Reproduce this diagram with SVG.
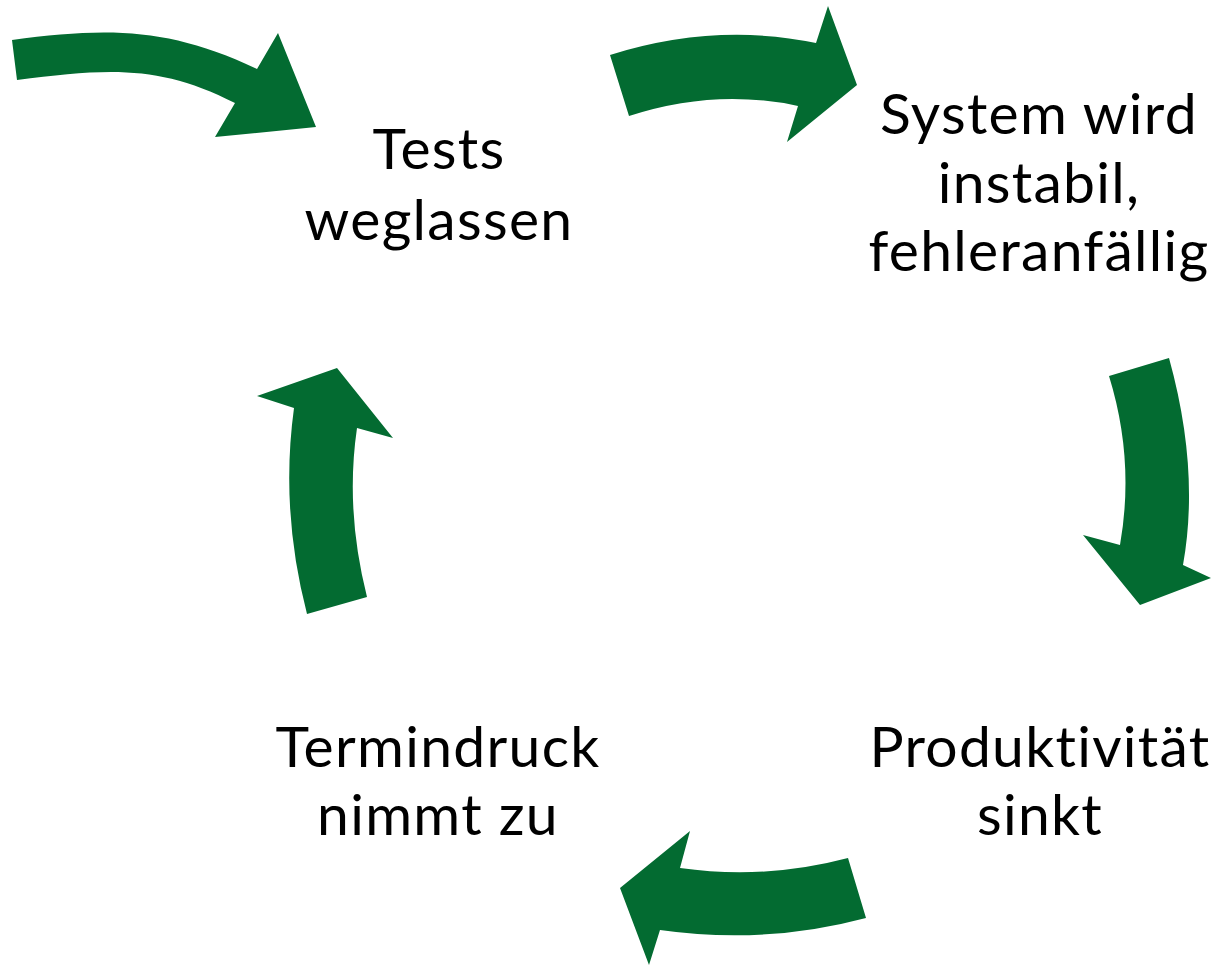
<svg xmlns="http://www.w3.org/2000/svg" width="1211" height="965" viewBox="0 0 1211 965">
<style>
.arrow{fill:#036b31;stroke:none}
.lbl{font-family:Lato,"Open Sans","Liberation Sans",sans-serif;font-size:57px;fill:#000;text-anchor:middle;letter-spacing:1.3px;font-variant-ligatures:none;font-feature-settings:"liga" 0,"clig" 0}
</style>
<rect width="1211" height="965" fill="#ffffff"/>
<g id="connectors">
<path id="arrow-in" class="arrow" d="M12,40 C110,27 170,28 257,69 L278,33 L316,127 L215,137 L235,103 C160,65 110,68 17,80 Z"/>
<path id="arrow-1" class="arrow" d="M610,55 Q715,22 816,43 L828,6 L857,85 L787,142 L798,106 Q715,88 629,116 Z"/>
<path id="arrow-2" class="arrow" d="M1169,358 Q1200,470 1183,565 L1211,578 L1140,605 L1083,535 L1120,545 Q1135,460 1109,376 Z"/>
<path id="arrow-3" class="arrow" d="M866,918 Q765,945 660,930 L649,965 L620,888 L690,831 L680,868 Q765,880 848,858 Z"/>
<path id="arrow-4" class="arrow" d="M307,614 Q280,510 294,408 L257,396 L337,368 L393,438 L357,428 Q345,510 367,597 Z"/>
</g>
<g id="node-tests">
<text class="lbl" x="439" y="169">Tests</text>
<text class="lbl" x="439" y="240">weglassen</text>
</g>
<g id="node-system">
<text class="lbl" x="1039" y="134">System wird</text>
<text class="lbl" x="1039" y="203">instabil,</text>
<text class="lbl" x="1039" y="271">fehleranfällig</text>
</g>
<g id="node-produktivitaet">
<text class="lbl" x="1040" y="767">Produktivität</text>
<text class="lbl" x="1040" y="835">sinkt</text>
</g>
<g id="node-termindruck">
<text class="lbl" x="438" y="767">Termindruck</text>
<text class="lbl" x="438" y="835">nimmt zu</text>
</g>
</svg>
